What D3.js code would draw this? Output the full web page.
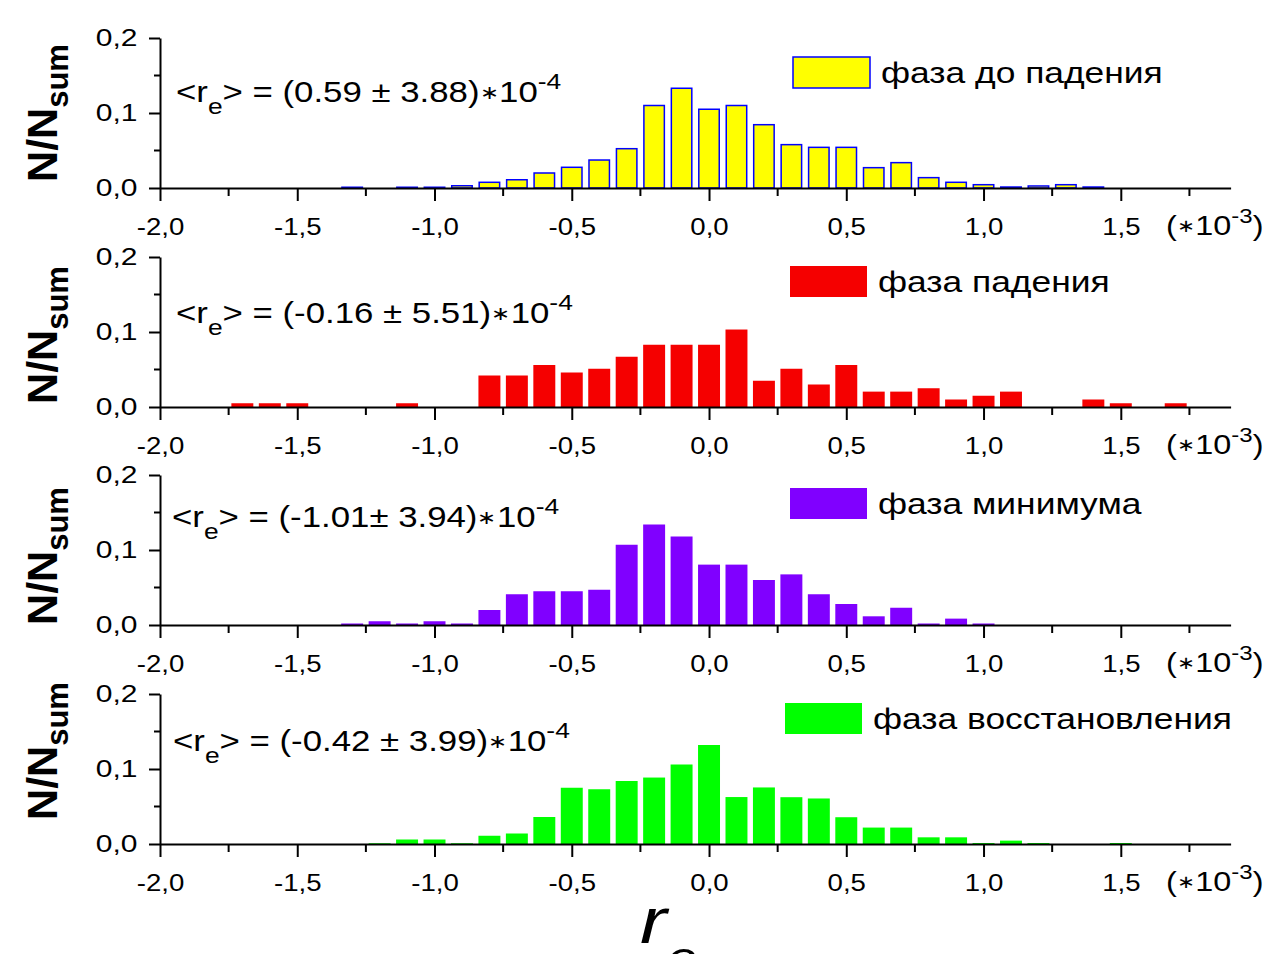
<!DOCTYPE html>
<html>
<head>
<meta charset="utf-8">
<script src="https://cdn.jsdelivr.net/npm/d3@7.9.0/dist/d3.min.js"></script>
<style>
  body { margin: 0; background: #fff; }
  svg { display: block; font-family: "Liberation Sans", Arial, sans-serif; }
</style>
</head>
<body>
<svg id="chart" width="1271" height="954"></svg>
<script>
// Bin centres (units of 1e-3)
const binCenters = [-1.7, -1.6, -1.5, -1.4, -1.3, -1.2, -1.1, -1.0, -0.9, -0.8, -0.7, -0.6,
  -0.5, -0.4, -0.3, -0.2, -0.1, 0.0, 0.1, 0.2, 0.3, 0.4, 0.5, 0.6, 0.7, 0.8, 0.9, 1.0,
  1.1, 1.2, 1.3, 1.4, 1.5, 1.6, 1.7];

// N/Nsum for each phase
const preFall = [0, 0, 0, 0, 0.001, 0, 0.001, 0.001, 0.003, 0.0076, 0.011, 0.020,
  0.0276, 0.0373, 0.0524, 0.110, 0.133, 0.105, 0.110, 0.0844, 0.0578, 0.0542, 0.0542, 0.0271,
  0.0338, 0.0138, 0.0076, 0.0044, 0.0013, 0.0027, 0.0044, 0.0013, 0, 0, 0];
const fall = [0.005, 0.005, 0.005, 0, 0, 0, 0.005, 0, 0, 0.042, 0.042, 0.056,
  0.046, 0.051, 0.067, 0.083, 0.083, 0.083, 0.1033, 0.035, 0.051, 0.030, 0.056, 0.0205,
  0.0205, 0.025, 0.010, 0.015, 0.0205, 0, 0, 0.010, 0.005, 0, 0.005];
const minimum = [0, 0, 0, 0, 0.002, 0.005, 0.002, 0.005, 0.002, 0.020, 0.041, 0.045,
  0.045, 0.047, 0.107, 0.134, 0.118, 0.0805, 0.0805, 0.060, 0.0675, 0.041, 0.028, 0.0116,
  0.023, 0.002, 0.0085, 0.002, 0, 0, 0, 0, 0, 0, 0];
const recovery = [0, 0, 0, 0, 0, 0.001, 0.006, 0.006, 0.001, 0.011, 0.014, 0.036,
  0.075, 0.073, 0.084, 0.0886, 0.106, 0.132, 0.0626, 0.0754, 0.0624, 0.0607, 0.0357, 0.0219,
  0.0219, 0.0089, 0.0089, 0.0013, 0.0045, 0.0013, 0, 0, 0.0013, 0, 0];

const phaseNames = ["фаза до падения", "фаза падения", "фаза минимума", "фаза восстановления"];
const statTexts = ["(0.59 ± 3.88)", "(-0.16 ± 5.51)", "(-1.01± 3.94)", "(-0.42 ± 3.99)"];
const fillColors = ["#ffff00", "#f50000", "#8000ff", "#00ff00"];

const xMajorTicks = [-2.0, -1.5, -1.0, -0.5, 0.0, 0.5, 1.0, 1.5];
const xMinorTicks = [-1.75, -1.25, -0.75, -0.25, 0.25, 0.75, 1.25, 1.75];
const yMajorTicks = [0, 0.1, 0.2];
const yMinorTicks = [0.05, 0.15];

const series = [preFall, fall, minimum, recovery];

// layout per panel
const panelBase = [188, 407, 625, 844];
const statPos = [[176, 102], [176, 323], [172, 527], [173, 751]];
const legendPos = [[793, 57], [790, 266], [790, 488], [785, 703]];
const titleCenter = [113, 335, 556, 751];

const svg = d3.select("#chart");
const comma = d => d3.format(".1f")(d).replace(".", ",").replace("\u2212", "-");

const x = d3.scaleLinear().domain([-2.0, 1.9]).range([160, 1230.6]);
const barHalf = 0.04;

// text that is a bit wider than the font, like the original
function wideText(parent, px, py, sx, size) {
  return parent.append("text")
    .attr("transform", `translate(${px},${py}) scale(${sx},1)`)
    .attr("font-size", size);
}

series.forEach((values, i) => {
  const y0 = panelBase[i];
  const y = d3.scaleLinear().domain([0, 0.2]).range([y0, y0 - 150]);
  const g = svg.append("g");

  // bars
  const data = binCenters.map((c, k) => ({ c, v: values[k] })).filter(d => d.v > 0);
  g.selectAll("rect.bar").data(data).enter().append("rect")
    .attr("class", "bar")
    .attr("x", d => x(d.c - barHalf) + (i === 0 ? 0.75 : 0))
    .attr("width", d => x(d.c + barHalf) - x(d.c - barHalf) - (i === 0 ? 1.5 : 0))
    .attr("y", d => y(d.v))
    .attr("height", d => y(0) - y(d.v))
    .attr("fill", fillColors[i])
    .attr("stroke", i === 0 ? "#0000ff" : "none")
    .attr("stroke-width", 1.5);

  // x axis
  const xAxis = g.append("g").attr("transform", `translate(0,${y0})`)
    .call(d3.axisBottom(x).tickValues(xMajorTicks).tickSize(13).tickSizeOuter(0).tickFormat(comma));
  xAxis.attr("font-family", null);
  xAxis.select(".domain").attr("stroke-width", 2);
  xAxis.selectAll(".tick line").attr("stroke-width", 2);
  xAxis.selectAll(".tick text").attr("font-size", 23).attr("fill", "#000")
    .attr("dy", "0.55em").attr("y", 34).attr("transform", "scale(1.2,1)");
  g.append("g").attr("transform", `translate(0,${y0})`)
    .selectAll("line").data(xMinorTicks).enter().append("line")
    .attr("x1", d => x(d)).attr("x2", d => x(d)).attr("y1", 0).attr("y2", 8)
    .attr("stroke", "#000").attr("stroke-width", 2);

  // y axis
  const yAxis = g.append("g").attr("transform", "translate(160,0)")
    .call(d3.axisLeft(y).tickValues(yMajorTicks).tickSize(11).tickSizeOuter(0).tickFormat(comma));
  yAxis.attr("font-family", null);
  yAxis.select(".domain").attr("stroke-width", 2);
  yAxis.selectAll(".tick line").attr("stroke-width", 2);
  yAxis.selectAll(".tick text").attr("font-size", 24).attr("fill", "#000")
    .attr("x", -18).attr("transform", "scale(1.25,1)");
  g.append("g").selectAll("line").data(yMinorTicks).enter().append("line")
    .attr("x1", 154).attr("x2", 160).attr("y1", d => y(d)).attr("y2", d => y(d))
    .attr("stroke", "#000").attr("stroke-width", 2);

  // (*10^-3)
  const mult = wideText(g, 1166, y0 + 47, 1.2, 27);
  mult.append("tspan").text("(");
  mult.append("tspan").attr("font-size", 18).attr("dy", -3).text("\u2217");
  mult.append("tspan").attr("dy", 3).text("10");
  mult.append("tspan").attr("dy", -12).attr("font-size", 20).text("-3");
  mult.append("tspan").attr("dy", 12).text(")");

  // y title
  const title = g.append("text")
    .attr("transform", `translate(57,${titleCenter[i]}) rotate(-90)`)
    .attr("text-anchor", "middle").attr("font-weight", "bold").attr("font-size", 43);
  title.append("tspan").text("N/N");
  title.append("tspan").attr("dy", 11).attr("font-size", 31).text("sum");

  // mean annotation
  const st = wideText(g, statPos[i][0], statPos[i][1], 1.2, 29);
  st.append("tspan").text("<r");
  st.append("tspan").attr("dy", 12).attr("font-size", 22).text("e");
  st.append("tspan").attr("dy", -12).text("> = " + statTexts[i]);
  st.append("tspan").attr("font-size", 19).attr("dy", -3).text("\u2217");
  st.append("tspan").attr("dy", 3).text("10");
  st.append("tspan").attr("dy", -13).attr("font-size", 22).text("-4");

  // legend
  const [lx, ly] = legendPos[i];
  g.append("rect").attr("x", lx).attr("y", ly).attr("width", 77).attr("height", 31)
    .attr("fill", fillColors[i])
    .attr("stroke", i === 0 ? "#0000ff" : "none").attr("stroke-width", 1.5);
  wideText(g, lx + 88, ly + 26, 1.22, 29).text(phaseNames[i]);
});

// bottom axis title r_e (cut by the lower edge, as in the original)
const rt = wideText(svg, 640, 943, 1.25, 64).attr("font-style", "italic");
rt.append("tspan").text("r");
rt.append("tspan").attr("dy", 30).attr("font-size", 44).text("e");
</script>
</body>
</html>
